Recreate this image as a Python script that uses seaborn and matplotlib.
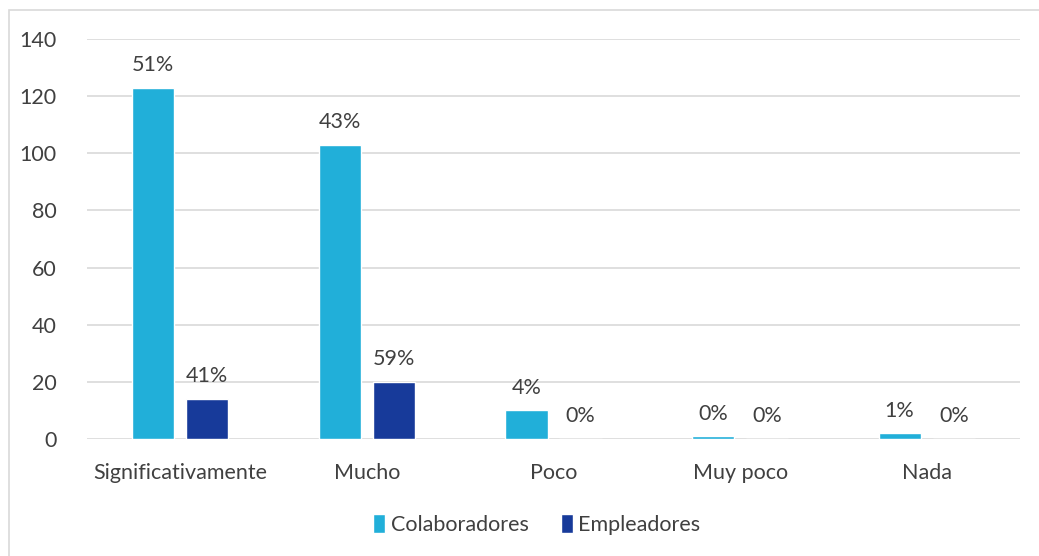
import matplotlib
matplotlib.use("Agg")
import matplotlib.pyplot as plt
import matplotlib.patches as mpatches
import seaborn as sns
import pandas as pd

categorias = ["Significativamente", "Mucho", "Poco", "Muy poco", "Nada"]
colaboradores = [123, 103, 10, 1, 2]
empleadores = [14, 20, 0, 0, 0]
series = ["Colaboradores", "Empleadores"]
colores = ["#21AFD9", "#173A9A"]
yticks = [0, 20, 40, 60, 80, 100, 120, 140]

sns.set_theme(style="white")
plt.rcParams["font.family"] = ["Lato", "DejaVu Sans"]
texto = "#404040"
fs = 15.5

df = pd.DataFrame({
    "categoria": categorias * 2,
    "serie": [series[0]] * len(categorias) + [series[1]] * len(categorias),
    "valor": colaboradores + empleadores,
})

fig = plt.figure(figsize=(10.39, 5.56), dpi=100)
ax = fig.add_axes([87 / 1039, 1 - 439 / 556, 933 / 1039, 400 / 556])

sns.barplot(data=df, x="categoria", y="valor", hue="serie", order=categorias,
            hue_order=series, palette=colores, width=0.58, gap=0.22,
            saturation=1, ax=ax, legend=True, errorbar=None)

# Percentage labels: share of each series total
for cont, vals in zip(ax.containers, [colaboradores, empleadores]):
    total = sum(vals)
    labels = [f"{round(v / total * 100):.0f}%" for v in vals]
    ax.bar_label(cont, labels=labels, padding=9, fontsize=fs, color=texto)

ax.set_ylim(0, 140)
ax.set_yticks(yticks)
ax.set_xlim(-0.5, len(categorias) - 0.5)
ax.yaxis.grid(True, color="#D9D9D9", linewidth=1.2)
ax.set_axisbelow(True)
for s in ax.spines.values():
    s.set_visible(False)
ax.set_xlabel("")
ax.set_ylabel("")
ax.tick_params(axis="both", length=0, labelsize=fs, labelcolor=texto)
ax.tick_params(axis="x", pad=17)
ax.tick_params(axis="y", pad=22)

leg = ax.legend(loc="upper center", bbox_to_anchor=(0.482, -0.14), ncol=2,
                frameon=False, fontsize=fs, handlelength=0.55, handleheight=0.95,
                handletextpad=0.25, columnspacing=1.5)
for t in leg.get_texts():
    t.set_color(texto)

# Outer chart frame
fig.patches.append(mpatches.Rectangle((9 / 1039, -0.1), 1.2, 1 - 10 / 556 + 0.1,
                                      transform=fig.transFigure, fill=False,
                                      edgecolor="#D9D9D9", linewidth=1.2))

fig.savefig("out.png", dpi=100)
